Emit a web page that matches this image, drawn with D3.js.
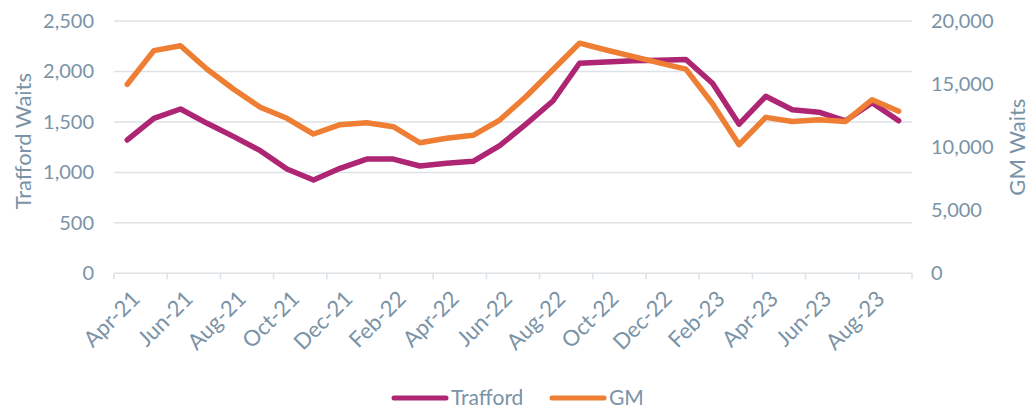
<!DOCTYPE html>
<html><head><meta charset="utf-8">
<script src="https://cdn.jsdelivr.net/npm/d3@7"></script>
<style>body{margin:0;background:#fff;} svg{display:block;}</style>
</head><body>
<svg id="c" width="1031" height="408"></svg>
<script>
const months = ["Apr-21","May-21","Jun-21","Jul-21","Aug-21","Sep-21","Oct-21","Nov-21","Dec-21","Jan-22","Feb-22","Mar-22","Apr-22","May-22","Jun-22","Jul-22","Aug-22","Sep-22","Oct-22","Nov-22","Dec-22","Jan-23","Feb-23","Mar-23","Apr-23","May-23","Jun-23","Jul-23","Aug-23","Sep-23"];
const trafford = [1321,1536,1628,1486,1354,1215,1033,924,1040,1132,1132,1063,1090,1110,1265,1481,1707,2081,2093,2105,2112,2118,1883,1478,1754,1620,1596,1511,1690,1511];
const gm = [14980,17650,18040,16170,14590,13160,12290,11040,11780,11940,11620,10350,10700,10940,12150,14030,16140,18240,17700,17190,16680,16190,13440,10200,12360,12040,12170,12040,13760,12850];
const leftTicks = [0,500,1000,1500,2000,2500];
const rightTicks = [0,5000,10000,15000,20000];
const seriesNames = ["Trafford","GM"];

const textCol = "#7A93A7", gridCol = "#DDE2E6";
const colTraf = "#AE2573", colGM = "#EE7E33";
const font = "Lato, 'Open Sans', sans-serif";
const svg = d3.select("#c");
const L = 114, R = 912, T = 21, B = 273.3;

const x = d3.scaleBand().domain(months).range([L, R]).paddingInner(0).paddingOuter(0);
const yL = d3.scaleLinear().domain([0,2500]).range([B, T]);
const yR = d3.scaleLinear().domain([0,20000]).range([B, T]);
const fmt = d3.format(",");

// gridlines
svg.append("g").selectAll("line").data(leftTicks).join("line")
  .attr("x1", L).attr("x2", R).attr("y1", d=>yL(d)).attr("y2", d=>yL(d))
  .attr("stroke", gridCol).attr("stroke-width", 1.5);

// x ticks every 2 categories
const tickIdx = d3.range(0, months.length + 1, 2);
svg.append("g").selectAll("line").data(tickIdx).join("line")
  .attr("x1", i => i < months.length ? x(months[i]) : R)
  .attr("x2", i => i < months.length ? x(months[i]) : R)
  .attr("y1", B).attr("y2", B + 6)
  .attr("stroke", gridCol).attr("stroke-width", 1.5);

// left axis labels
svg.append("g").selectAll("text").data(leftTicks).join("text")
  .attr("x", 94).attr("y", d => yL(d)).attr("dy", "0.35em")
  .attr("text-anchor", "end").attr("fill", textCol)
  .style("font-family", font).style("font-size", "20px").text(fmt);

// right axis labels
svg.append("g").selectAll("text").data(rightTicks).join("text")
  .attr("x", 931).attr("y", d => yR(d)).attr("dy", "0.35em")
  .attr("text-anchor", "start").attr("fill", textCol)
  .style("font-family", font).style("font-size", "20px").text(fmt);

// x labels
svg.append("g").selectAll("text").data(months.filter((m,i)=>i%2===0)).join("text")
  .attr("transform", d => `translate(${x(d)+x.bandwidth()/2+3},${B+16}) rotate(-45)`)
  .attr("text-anchor", "end").attr("dy", "0.7em").attr("fill", textCol)
  .style("font-family", font).style("font-size", "22px").text(d => d);

// axis titles
svg.append("text").attr("transform", `translate(31,${(T+B)/2-6}) rotate(-90)`)
  .attr("text-anchor", "middle").attr("fill", textCol)
  .style("font-family", font).style("font-size", "22px").text("Trafford Waits");
svg.append("text").attr("transform", `translate(1010,${(T+B)/2}) rotate(-90)`)
  .attr("text-anchor", "middle").attr("dy", "0.7em").attr("fill", textCol)
  .style("font-family", font).style("font-size", "22px").text("GM Waits");

// lines
const cx = m => x(m) + x.bandwidth()/2;
const lineL = d3.line().x((d,i)=>cx(months[i])).y(d=>yL(d));
const lineR = d3.line().x((d,i)=>cx(months[i])).y(d=>yR(d));
svg.append("path").datum(trafford).attr("d", lineL).attr("fill","none")
  .attr("stroke", colTraf).attr("stroke-width", 5.5).attr("stroke-linejoin","round").attr("stroke-linecap","round");
svg.append("path").datum(gm).attr("d", lineR).attr("fill","none")
  .attr("stroke", colGM).attr("stroke-width", 5.5).attr("stroke-linejoin","round").attr("stroke-linecap","round");

// legend
const leg = [{n:seriesNames[0], c:colTraf, x:394}, {n:seriesNames[1], c:colGM, x:552}];
const lg = svg.append("g").selectAll("g").data(leg).join("g");
lg.append("line").attr("x1", d=>d.x).attr("x2", d=>d.x+52).attr("y1", 398).attr("y2", 398)
  .attr("stroke", d=>d.c).attr("stroke-width", 5).attr("stroke-linecap","round");
lg.append("text").attr("x", d=>d.x+57).attr("y", 398).attr("dy","0.35em").attr("fill", textCol)
  .style("font-family", font).style("font-size", "21px").text(d=>d.n);
</script>
</body></html>
